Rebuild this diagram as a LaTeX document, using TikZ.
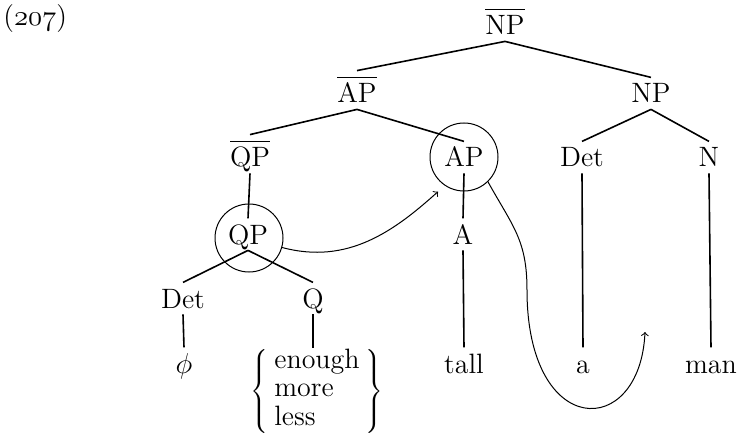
\documentclass[tikz,border=0pt]{standalone}
\usepackage{fontspec}
\usetikzlibrary{arrows,positioning}

\newcommand{\barred}[1]{$\overline{\mbox{\raisebox{0pt}[11.5pt]{#1}}}$}
\newcommand{\osnum}[1]{{\usefont{OML}{cmm}{m}{it}#1}}

\begin{document}
\begin{tikzpicture}[x=0.5pt,y=0.5pt,
    every node/.style={font=\fontsize{14}{14.2}\selectfont},
    cat/.style={anchor=base,inner sep=3pt,text height=9.6pt,text depth=0pt},
    barcat/.style={cat,text height=13pt},
    ring/.style={draw,circle,minimum size=34pt,inner sep=0pt,line width=0.5pt},
    branch/.style={thick},
    move/.style={->,line width=0.5pt}]
    \useasboundingbox (0,0) rectangle (740,440);

    \node[anchor=base west,inner sep=0pt] (exnum) at (3,414) {(\osnum{207})};

    \node[barcat] (npbar) at (505,405) {\barred{NP}};

    \node[barcat] (apbar) at (357,337) {\barred{AP}};
    \node[cat] (np) at (651,337) {NP};

    \node[barcat] (qpbar) at (250,273) {\barred{QP}};
    \node[cat] (ap) at (464,273) {AP};
    \node[cat] (npdet) at (582,273) {Det};
    \node[cat] (n) at (709,273) {N};

    \node[cat] (qp) at (248,196) {QP};
    \node[cat] (adj) at (463,196) {A};

    \node[cat] (qpdet) at (183,132) {Det};
    \node[cat] (q) at (313,132) {Q};

    \node[cat] (phi) at (184,67) {$\phi$};
    \node[anchor=north,inner sep=0pt] (qlist) at (317,92)
        {$\left\{\begin{tabular}{@{\hspace{3pt}}l@{\hspace{3pt}}}enough\\more\\less\end{tabular}\right\}$};
    \node[cat] (tall) at (464,67) {tall};
    \node[cat] (art) at (583,67) {a};
    \node[cat] (man) at (711,67) {man};

    \node[ring] (apring) at (464,283) {};
    \node[ring] (qpring) at (249,202) {};

    \draw[branch] (npbar.south) -- (apbar.north);
    \draw[branch] (npbar.south) -- (np.north);
    \draw[branch] (apbar.south) -- (qpbar.north);
    \draw[branch] (apbar.south) -- (ap.north);
    \draw[branch] (np.south) -- (npdet.north);
    \draw[branch] (np.south) -- (n.north);

    \draw[branch] (qpbar.south) -- (qp.north);
    \draw[branch] (ap.south) -- (adj.north);
    \draw[branch] (npdet.south) -- (art.north);
    \draw[branch] (n.south) -- (man.north);

    \draw[branch] (qp.south) -- (qpdet.north);
    \draw[branch] (qp.south) -- (q.north);
    \draw[branch] (qpdet.south) -- (phi.north);
    \draw[branch] (q.south) -- (q.south |- qlist.north);
    \draw[branch] (adj.south) -- (tall.north);

    % movement arrows
    \coordinate (sbend) at (527,150);
    \coordinate (gap) at (645,108);
    \draw[move,shorten >=4.5pt] (qpring.-16) to[out=-15,in=222] (apring.236);
    \draw[move] (apring.-46) .. controls +(25,-45) and +(0,50) .. (sbend)
        .. controls +(0,-150) and +(-5,-108) .. (gap);
\end{tikzpicture}
\end{document}
